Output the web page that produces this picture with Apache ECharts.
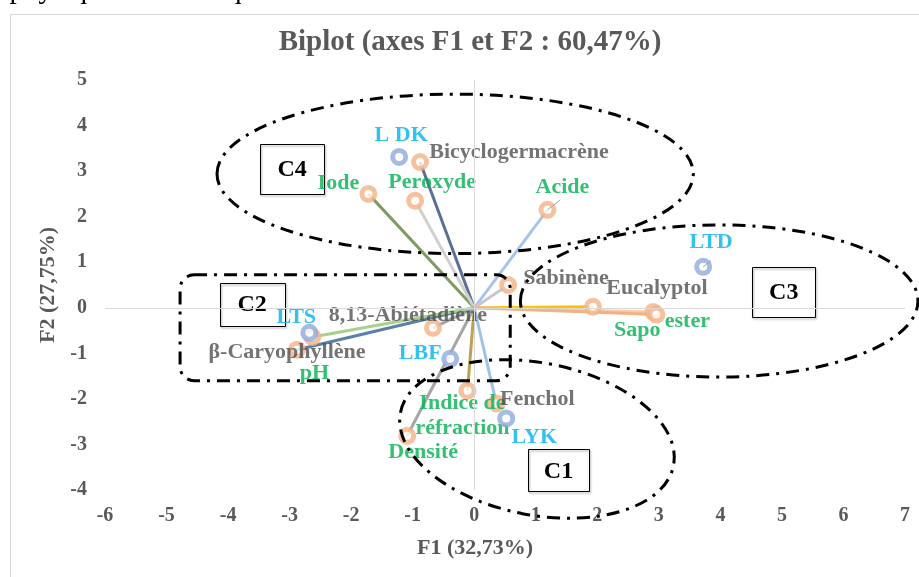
<!DOCTYPE html>
<html>
<head>
<meta charset="utf-8" />
<title>Biplot</title>
<style>
  html, body, #main { width: 100%; height: 100%; margin: 0; overflow: hidden; background: #fff; }
</style>
</head>
<body>
<div id="main"></div>
<script src="https://cdn.jsdelivr.net/npm/echarts@6/dist/echarts.min.js"></script>
<script>
// observations (blue rings)
var obsNames = ['L DK', 'LTD', 'LTS', 'LBF', 'LYK'];
var obsX = [-1.22, 3.72, -2.68, -0.39, 0.52];
var obsY = [3.31, 0.90, -0.55, -1.12, -2.43];

// variables (orange rings), drawn as vectors from the origin
var varNames = ['Bicyclogermacrène', 'Iode', 'Peroxyde', 'Acide', 'Sabinène', 'Eucalyptol', 'Sapo', 'ester',
  '8,13-Abiétadiène', 'β-Caryophyllène', 'pH', 'Indice de\nréfraction', 'Fenchol', 'Densité'];
var varX = [-0.88, -1.72, -0.96, 1.19, 0.55, 1.93, 2.91, 2.96, -0.67, -2.88, -2.63, -0.11, 0.36, -1.09];
var varY = [3.20, 2.50, 2.35, 2.15, 0.50, 0.02, -0.09, -0.15, -0.44, -0.92, -0.64, -1.82, -2.10, -2.81];

// cluster names
var clusterNames = ['C4', 'C3', 'C2', 'C1'];

// styles
var serif = '"Liberation Serif", "Times New Roman", serif';
var green = '#00b050', grey = '#505050', cyan = '#00b0f0';
var vecColors = ['#5b6f96', '#7f9a62', '#d0d0d0', '#a9c4eb', '#c8c8c8', '#ffc000', '#f8cbad', '#f4b183',
  '#a5a5a5', '#5b7fab', '#a9d18e', '#bf9f50', '#9dc3e6', '#a6a6a6'];
var varLabelColors = [grey, green, green, green, grey, grey, green, green, grey, grey, green, green, grey, green];
var varOffsets = [[99, -10], [-30, -11], [17, -18], [15, -23], [58, -7], [64, -19], [-16, 18], [31, 7],
  [-25, -13], [-10, 3], [2, 36], [-5, 25], [41, -4], [16, 17]];
var obsOffsets = [[2, -22], [8, -24], [-13, -16], [-30, -5], [28, 19]];

var chart = echarts.init(document.getElementById('main'));

var series = [];
varNames.forEach(function (name, i) {
  series.push({
    type: 'line',
    data: [[0, 0], [varX[i], varY[i]]],
    symbol: 'none',
    silent: true,
    z: 2,
    lineStyle: { color: vecColors[i], width: 3 }
  });
});
// zero lines
series[0].markLine = {
  silent: true,
  symbol: 'none',
  label: { show: false },
  lineStyle: { color: '#d9d9d9', width: 1, type: 'solid' },
  data: [{ xAxis: 0 }, { yAxis: 0 }]
};

var labelBase = {
  show: true,
  position: 'inside',
  formatter: '{b}',
  fontFamily: serif,
  fontWeight: 'bold',
  fontSize: 22,
  lineHeight: 25
};

series.push({
  type: 'scatter',
  z: 3,
  symbol: 'circle',
  symbolSize: 13,
  itemStyle: { color: '#fff', borderColor: '#f4b183', borderWidth: 5 },
  label: labelBase,
  data: varNames.map(function (name, i) {
    return {
      name: name,
      value: [varX[i], varY[i]],
      label: { offset: varOffsets[i], color: varLabelColors[i] }
    };
  })
});

series.push({
  type: 'scatter',
  z: 4,
  symbol: 'circle',
  symbolSize: 13,
  itemStyle: { color: '#fff', borderColor: '#8faadc', borderWidth: 5 },
  label: labelBase,
  data: obsNames.map(function (name, i) {
    return {
      name: name,
      value: [obsX[i], obsY[i]],
      label: { offset: obsOffsets[i], color: cyan }
    };
  })
});

var tickLabel = { fontFamily: serif, fontWeight: 'bold', fontSize: 20, color: '#595959' };

var option = {
  animation: false,
  grid: { left: 105, right: 14, top: 80, bottom: 87 },
  xAxis: {
    type: 'value',
    min: -6, max: 7, interval: 1,
    name: 'F1 (32,73%)',
    nameLocation: 'middle',
    nameGap: 47,
    nameTextStyle: { fontFamily: serif, fontWeight: 'bold', fontSize: 22, color: '#595959', padding: [0, 60, 0, 0] },
    axisLine: { show: false },
    axisTick: { show: false },
    splitLine: { show: false },
    axisLabel: Object.assign({ margin: 16 }, tickLabel)
  },
  yAxis: {
    type: 'value',
    min: -4, max: 5, interval: 1,
    name: 'F2 (27,75%)',
    nameLocation: 'middle',
    nameRotate: 90,
    nameGap: 44,
    nameTextStyle: { fontFamily: serif, fontWeight: 'bold', fontSize: 22, color: '#595959' },
    axisLine: { show: false },
    axisTick: { show: false },
    splitLine: { show: false },
    axisLabel: Object.assign({ margin: 18 }, tickLabel)
  },
  series: series
};

chart.setOption(option);

// annotations: dash-dot cluster outlines and boxed names, placed in data units
function drawNotes() {
  var p = function (x, y) { return chart.convertToPixel({ gridIndex: 0 }, [x, y]); };
  var o = p(0, 0), u = p(1, 1);
  var ux = u[0] - o[0], uy = o[1] - u[1];
  var dash = { fill: 'none', stroke: '#000', lineWidth: 3, lineDash: [13, 7, 3, 7] };

  var ellipses = [
    { c: [-0.31, 2.94], rx: 3.87, ry: 1.75, rot: 0 },
    { c: [3.98, 0.15], rx: 3.23, ry: 1.67, rot: 0 },
    { c: [1.02, -2.88], rx: 2.26, ry: 1.67, rot: -11 }
  ];
  var boxes = [
    { c: [-2.96, 3.05], w: 64, h: 50 },
    { c: [5.03, 0.35], w: 63, h: 50 },
    { c: [-3.61, 0.08], w: 65, h: 43 },
    { c: [1.37, -3.57], w: 61, h: 42 }
  ];

  var els = [];
  els.push({
    type: 'rect', silent: true, z: 0,
    shape: { x: 10.5, y: 14.5, width: 1000, height: 1000 },
    style: { fill: 'none', stroke: '#d9d9d9', lineWidth: 1 }
  });
  els.push({
    type: 'text', silent: true,
    style: { text: 's physiques et chimiques', x: -9, y: 5, font: '29px ' + serif, fill: '#000', verticalAlign: 'bottom' }
  });
  els.push({
    type: 'text', silent: true,
    style: { text: 'Biplot (axes F1 et F2 : 60,47%)', x: 470, y: 43, font: 'bold 29px ' + serif, fill: '#595959', align: 'center', verticalAlign: 'middle' }
  });

  // short label leaders for Acide and LTD
  [[1.19, 2.15, 13, -10], [3.72, 0.90, 8, -6]].forEach(function (l) {
    var c = p(l[0], l[1]);
    els.push({
      type: 'line', silent: true, z: 5,
      shape: { x1: c[0], y1: c[1], x2: c[0] + l[2], y2: c[1] + l[3] },
      style: { stroke: '#a6a6a6', lineWidth: 1 }
    });
  });

  ellipses.forEach(function (e) {
    var c = p(e.c[0], e.c[1]);
    els.push({
      type: 'ellipse', silent: true, z: 50,
      x: c[0], y: c[1], rotation: e.rot * Math.PI / 180,
      shape: { cx: 0, cy: 0, rx: e.rx * ux, ry: e.ry * uy },
      style: dash
    });
  });

  var a = p(-4.78, 0.724), b = p(0.585, -1.60);
  els.push({
    type: 'rect', silent: true, z: 50,
    shape: { x: a[0], y: a[1], width: b[0] - a[0], height: b[1] - a[1], r: 14 },
    style: dash
  });

  boxes.forEach(function (bx, i) {
    var c = p(bx.c[0], bx.c[1]);
    els.push({
      type: 'rect', silent: true, z: 1,
      shape: { x: Math.round(c[0] - bx.w / 2) + 0.5, y: Math.round(c[1] - bx.h / 2) + 0.5, width: bx.w, height: bx.h },
      style: { fill: 'none', stroke: '#000', lineWidth: 1, shadowColor: 'rgba(0,0,0,0.35)', shadowOffsetX: 1, shadowOffsetY: 1.5, shadowBlur: 2 }
    });
    els.push({
      type: 'text', silent: true, z: 1,
      style: { text: clusterNames[i], x: c[0], y: c[1] + 1, font: 'bold 24px ' + serif, fill: '#000', align: 'center', verticalAlign: 'middle' }
    });
  });

  chart.setOption({ graphic: { elements: els } });
}
drawNotes();
</script>
</body>
</html>
